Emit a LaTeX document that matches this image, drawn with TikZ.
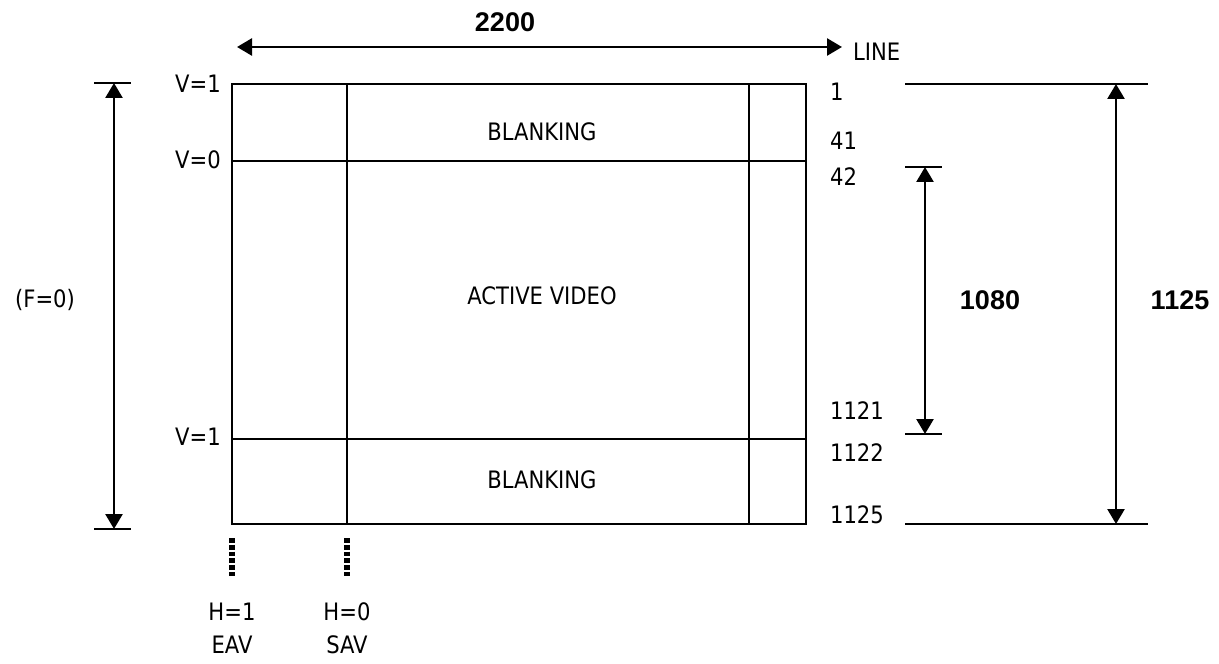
\documentclass[tikz,border=0pt]{standalone}
\usepackage{fontspec}
\setmainfont[FakeStretch=0.88]{DejaVu Sans}
\newfontfamily\dimfont{Liberation Sans}
\usetikzlibrary{arrows.meta}

\begin{document}
\begin{tikzpicture}[x=0.5pt,y=-0.5pt,
	lbl/.style={font=\fontsize{12}{14}\selectfont},
	dimtxt/.style={font=\dimfont\bfseries\fontsize{13.5}{15}\selectfont},
	dimline/.style={line width=1.3pt,{Triangle[length=7.5pt,width=8.5pt]}-{Triangle[length=7.5pt,width=8.5pt]}},
	rule/.style={line width=0.9pt},
	marker/.style={line width=2.6pt,dash pattern=on 2.4pt off 1pt}]
	\useasboundingbox (0,0) rectangle (1219,663);
	% Frame
	\coordinate (tl) at (232,84);
	\coordinate (br) at (806,524);
	\draw[rule] (tl) rectangle (br);
	\draw[rule] (232,161) -- (806,161);
	\draw[rule] (232,439) -- (806,439);
	\draw[rule] (347,84) -- (347,524);
	\draw[rule] (749,84) -- (749,524);
	\node[lbl] (blank1) at (542,132) {BLANKING};
	\node[lbl] (active) at (542,296) {ACTIVE VIDEO};
	\node[lbl] (blank2) at (542,480) {BLANKING};
	% Line count along the top
	\coordinate (l1) at (237,47);
	\coordinate (l2) at (842,47);
	\draw[dimline] (l1) -- (l2);
	\node[dimtxt] (w) at (505,22) {2200};
	\node[lbl,anchor=west] (line) at (846,52) {LINE};
	% Left-hand field marker
	\draw[rule] (94,83) -- (131,83);
	\draw[rule] (94,529) -- (131,529);
	\coordinate (f1) at (114,83);
	\coordinate (f2) at (114,529);
	\draw[dimline] (f1) -- (f2);
	\node[lbl] (field) at (45,300) {(F=0)};
	\node[lbl] (v1) at (198,84) {V=1};
	\node[lbl] (v0) at (198,160) {V=0};
	\node[lbl] (v1b) at (198,437) {V=1};
	% Line numbers
	\node[lbl,anchor=west] (n1) at (823,92) {1};
	\node[lbl,anchor=west] (n41) at (823,141) {41};
	\node[lbl,anchor=west] (n42) at (823,177) {42};
	\node[lbl,anchor=west] (n1121) at (823,411) {1121};
	\node[lbl,anchor=west] (n1122) at (823,453) {1122};
	\node[lbl,anchor=west] (n1125) at (823,515) {1125};
	% Right-hand Arrows
	\draw[rule] (905,167) -- (942,167);
	\draw[rule] (905,434) -- (942,434);
	\coordinate (a1) at (925,167);
	\coordinate (a2) at (925,434);
	\draw[dimline] (a1) -- (a2);
	\node[dimtxt] (act) at (990,300) {1080};
	\draw[rule] (905,84) -- (1148,84);
	\draw[rule] (905,524) -- (1148,524);
	\coordinate (t1) at (1116,84);
	\coordinate (t2) at (1116,524);
	\draw[dimline] (t1) -- (t2);
	\node[dimtxt] (tot) at (1180,300) {1125};
	% EAV / SAV markers
	\draw[marker] (232,538) -- (232,576);
	\draw[marker] (347,538) -- (347,576);
	\node[lbl] (h1) at (232,612) {H=1};
	\node[lbl] (eav) at (232,645) {EAV};
	\node[lbl] (h0) at (347,612) {H=0};
	\node[lbl] (sav) at (347,645) {SAV};
\end{tikzpicture}
\end{document}
